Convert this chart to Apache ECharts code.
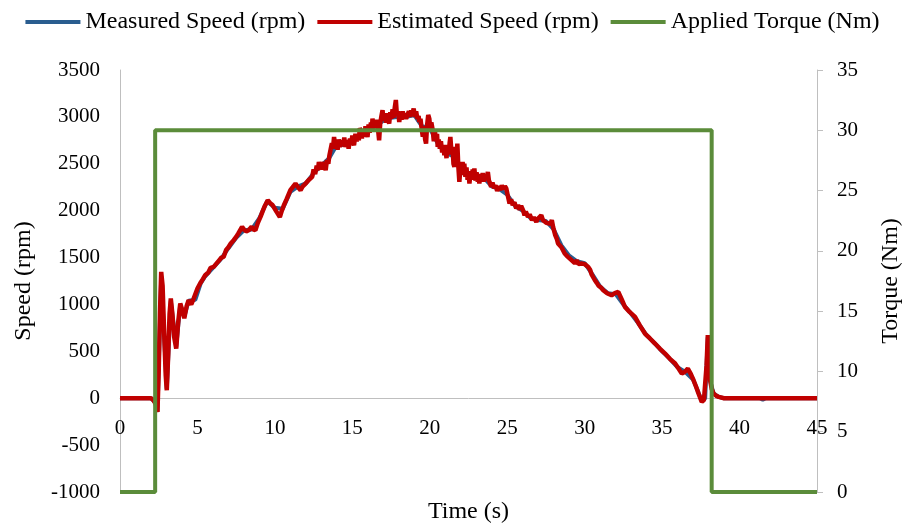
<!DOCTYPE html>
<html>
<head>
<meta charset="utf-8">
<script src="https://cdn.jsdelivr.net/npm/echarts@6/dist/echarts.min.js"></script>
<style>
  html, body { margin: 0; padding: 0; background: #ffffff; }
  #chart { width: 905px; height: 530px; }
</style>
</head>
<body>
<div id="chart"></div>
<script>
// Sensorless drive test: measured vs. estimated rotor speed under a torque step

const seriesNames = ['Measured Speed (rpm)', 'Estimated Speed (rpm)', 'Applied Torque (Nm)'];

// Measured speed (rpm) against time (s)
const measuredTime = [0, 2.0, 2.3, 2.42, 2.66, 3.02, 3.28, 3.63, 3.89, 4.15, 4.43, 4.86, 5.2, 5.5, 6.0, 6.5, 7.0, 7.5, 8.0, 8.5, 9.0, 9.5, 10.0, 10.5, 11.0, 11.5, 12.0, 12.5, 13.0, 13.5, 14.0, 14.5, 15.0, 15.5, 16.0, 16.5, 17.0, 17.5, 18.0, 18.5, 19.0, 19.5, 20.0, 20.5, 21.0, 21.5, 22.0, 22.5, 23.0, 23.5, 24.0, 24.5, 25.0, 25.5, 26.0, 26.5, 27.0, 27.5, 28.0, 28.5, 29.0, 29.5, 30.0, 30.5, 31.0, 31.5, 32.0, 32.5, 33.0, 33.5, 34.0, 34.5, 35.0, 35.5, 36.0, 36.5, 37.0, 37.35, 37.56, 37.78, 37.95, 38.1, 38.32, 38.65, 39.0, 41.3, 41.5, 41.7, 45];
const measuredRpm  = [0, 0, -50, -140, 1300, 100, 1040, 550, 1000, 870, 1040, 1050, 1220, 1300, 1390, 1480, 1600, 1710, 1790, 1800, 1920, 2100, 2030, 2020, 2200, 2260, 2290, 2400, 2480, 2560, 2700, 2700, 2740, 2810, 2850, 2900, 2960, 2990, 3000, 3000, 3020, 2900, 2880, 2720, 2620, 2580, 2480, 2380, 2370, 2350, 2260, 2230, 2170, 2050, 2000, 1920, 1900, 1890, 1800, 1630, 1520, 1460, 1440, 1320, 1190, 1120, 1110, 1000, 900, 790, 670, 590, 500, 420, 330, 280, 200, 60, -30, 0, 650, 190, 50, 15, 0, 0, -15, 0, 0];

// Estimated speed (rpm) against time (s)
const estimatedTime = [
  0, 1.0, 2.0, 2.15, 2.3, 2.42, 2.5, 2.58, 2.66, 2.75, 2.85, 2.95, 3.02, 3.12, 3.2, 3.28, 3.38, 3.5, 3.63, 3.75, 3.89, 4.0, 4.15, 4.3, 4.43, 4.6, 4.75, 4.86,
  5.0, 5.18, 5.35, 5.5, 5.7, 5.85, 6.05, 6.25, 6.4, 6.55, 6.69, 6.85, 7.0, 7.15, 7.34, 7.5, 7.65, 7.88, 8.0, 8.15, 8.31, 8.5, 8.6, 8.74, 8.9,
  9.07, 9.2, 9.35, 9.54, 9.7, 9.85, 9.93, 10.1, 10.32, 10.45, 10.58, 10.75, 10.9, 11.0, 11.15, 11.33, 11.5, 11.66, 11.8, 11.98, 12.2,
  12.41, 12.5, 12.6, 12.7, 12.78, 12.84, 12.92, 13.0, 13.08, 13.15, 13.22, 13.28, 13.36, 13.45, 13.52, 13.6, 13.68, 13.75, 13.82, 13.9, 13.98,
  14.05, 14.12, 14.2, 14.25, 14.32, 14.4, 14.48, 14.55, 14.62, 14.68, 14.76, 14.85, 14.92, 15.0, 15.06, 15.11, 15.2, 15.28, 15.35, 15.42, 15.48,
  15.54, 15.62, 15.7, 15.78, 15.85, 15.92, 15.98, 16.05, 16.12, 16.2, 16.26, 16.3, 16.38, 16.45, 16.52, 16.6, 16.67, 16.73, 16.8, 16.88, 16.95,
  17.02, 17.1, 17.18, 17.25, 17.32, 17.38, 17.45, 17.52, 17.6, 17.66, 17.74, 17.81, 17.88, 17.95, 18.03, 18.1, 18.18, 18.25, 18.32, 18.4, 18.47,
  18.57, 18.65, 18.72, 18.8, 18.88, 18.96, 19.04, 19.12, 19.2, 19.28, 19.32, 19.4, 19.48, 19.55, 19.62, 19.7, 19.76, 19.82, 19.9, 19.97,
  20.04, 20.1, 20.19, 20.26, 20.33, 20.4, 20.47, 20.51, 20.58, 20.65, 20.72, 20.8, 20.87, 20.94, 21.0, 21.08, 21.15, 21.22, 21.28, 21.33,
  21.4, 21.47, 21.53, 21.59, 21.65, 21.72, 21.78, 21.84, 21.91, 21.98, 22.05, 22.12, 22.18, 22.23, 22.3, 22.37, 22.44, 22.5, 22.56, 22.63,
  22.7, 22.77, 22.83, 22.88, 22.95, 23.02, 23.1, 23.16, 23.2, 23.28, 23.35, 23.42, 23.5, 23.58, 23.66, 23.75, 23.82, 23.9, 23.96,
  24.05, 24.15, 24.25, 24.35, 24.45, 24.55, 24.65, 24.75, 24.85, 24.94, 25.05, 25.15, 25.25, 25.35, 25.47, 25.58, 25.7, 25.8, 25.9, 26.02,
  26.12, 26.2, 26.34, 26.45, 26.6, 26.72, 26.88, 26.96, 27.05, 27.2, 27.3, 27.4, 27.52, 27.64, 27.8, 27.88, 27.96, 28.1, 28.2, 28.28,
  28.4, 28.5, 28.6, 28.71, 28.8, 28.9, 29.0, 29.15, 29.25, 29.36, 29.5, 29.6, 29.68, 29.79, 29.9, 30.0, 30.12, 30.23, 30.35, 30.45,
  30.55, 30.66, 30.78, 30.9, 31.05, 31.2, 31.45, 31.74, 31.95, 32.17, 32.4, 32.6, 32.9, 33.25, 33.55, 33.89, 34.2, 34.54, 34.85, 35.19,
  35.5, 35.84, 36.05, 36.27, 36.45, 36.66, 36.85, 37.03, 37.2, 37.35, 37.56, 37.7, 37.78, 37.87, 37.95, 38.02, 38.1, 38.2, 38.32, 38.5,
  38.65, 39.0, 45
];
const estimatedRpm = [
  0, 0, 0, -20, -60, -146, 300, 900, 1347, 1200, 700, 250, 85, 500, 900, 1063, 900, 650, 530, 800, 1010, 950, 853, 980, 1045, 1000, 1060, 1045,
  1170, 1226, 1270, 1311, 1340, 1390, 1400, 1440, 1470, 1500, 1507, 1580, 1610, 1650, 1685, 1720, 1760, 1827, 1800, 1780, 1791, 1830, 1800, 1791, 1870,
  1933, 1990, 2050, 2111, 2080, 2060, 2040, 1990, 1933, 2000, 2058, 2120, 2180, 2218, 2250, 2289, 2250, 2218, 2260, 2289, 2330,
  2360, 2440, 2390, 2480, 2430, 2520, 2450, 2500, 2440, 2520, 2470, 2431, 2540, 2500, 2590, 2609, 2720, 2660, 2786, 2690, 2740,
  2650, 2760, 2680, 2662, 2750, 2690, 2780, 2680, 2720, 2751, 2660, 2770, 2700, 2800, 2720, 2698, 2820, 2740, 2810, 2750, 2880,
  2858, 2770, 2850, 2790, 2900, 2820, 2786, 2920, 2830, 2940, 2860, 2982, 2880, 2960, 2880, 2970, 2850, 2751, 2930, 3010, 3071,
  2960, 3020, 2940, 3040, 2960, 2929, 3050, 2980, 3080, 2990, 3100, 3180, 3010, 3060, 2946, 3050, 2970, 3060, 2980, 3040, 2980,
  2982, 3060, 3000, 3070, 3030, 3089, 3000, 3060, 2980, 3010, 2946, 2980, 2870, 2790, 2900, 2760, 2716, 2900, 3020, 2982,
  2860, 2940, 2858, 2740, 2850, 2760, 2820, 2680, 2760, 2660, 2740, 2620, 2700, 2591, 2680, 2560, 2700, 2600, 2720, 2786,
  2620, 2680, 2500, 2466, 2620, 2560, 2716, 2480, 2307, 2460, 2380, 2520, 2420, 2502, 2360, 2460, 2330, 2420, 2289, 2400,
  2330, 2440, 2360, 2449, 2320, 2410, 2310, 2380, 2289, 2390, 2320, 2400, 2310, 2390, 2330, 2413, 2320, 2290, 2253,
  2300, 2240, 2270, 2210, 2260, 2220, 2270, 2230, 2260, 2236, 2150, 2076, 2120, 2060, 2090, 2023, 2060, 2010, 2050, 2005,
  1950, 1990, 1933, 1960, 1900, 1930, 1880, 1910, 1890, 1951, 1900, 1920, 1870, 1890, 1860, 1900, 1827, 1740, 1700, 1650,
  1660, 1610, 1600, 1543, 1560, 1510, 1500, 1472, 1490, 1440, 1470, 1430, 1450, 1436, 1450, 1430, 1440, 1400, 1370, 1320,
  1290, 1258, 1230, 1200, 1180, 1152, 1120, 1098, 1120, 1134, 1050, 974, 920, 867, 780, 690, 640, 583, 530, 476,
  420, 370, 320, 263, 280, 316, 260, 192, 120, 50, -39, -20, 0, 350, 672, 400, 192, 100, 50, 25,
  14, 0, 0
];

// Applied load torque (Nm) against time (s)
const torqueTime = [0, 2.27, 2.27, 38.2, 38.2, 45];
const torqueNm   = [0, 0, 30, 30, 0, 0];

// Axis ranges and tick spacing
const timeAxis   = { min: 0, max: 45, step: 5 };
const speedAxis  = { min: -1000, max: 3500, step: 500 };
const torqueAxis = { min: 0, max: 35, step: 5 };

const pairs = (xs, ys) => xs.map((x, i) => [x, ys[i]]);
const plain = v => String(v);

const FONT = '"Liberation Serif", "Times New Roman", serif';
const AXIS_GREY = '#BFBFBF';
const COLORS = ['#2A5D8F', '#C00000', '#5B8C3A'];

const GRID = { left: 120, right: 88, top: 70, bottom: 38 };
const PLOT_H = 530 - GRID.top - GRID.bottom;
// lift the time axis up to the speed = 0 level of the left scale
const zeroLift = Math.round(PLOT_H * (0 - speedAxis.min) / (speedAxis.max - speedAxis.min));

const chart = echarts.init(document.getElementById('chart'), null, { renderer: 'canvas' });

chart.setOption({
  animation: false,
  backgroundColor: '#ffffff',
  color: COLORS,
  textStyle: { fontFamily: FONT, color: '#000' },
  legend: {
    top: 5,
    left: 'center',
    icon: 'rect',
    itemWidth: 55,
    itemHeight: 4,
    itemGap: 12,
    data: seriesNames,
    textStyle: { fontFamily: FONT, fontSize: 24, color: '#000' }
  },
  grid: Object.assign({ outerBoundsMode: 'none', containLabel: false }, GRID),
  xAxis: {
    type: 'value',
    min: timeAxis.min,
    max: timeAxis.max,
    interval: timeAxis.step,
    offset: -zeroLift,
    name: 'Time (s)',
    nameLocation: 'middle',
    nameGap: 102,
    nameTextStyle: { fontFamily: FONT, fontSize: 24, color: '#000' },
    axisLine: { onZero: false, lineStyle: { color: AXIS_GREY, width: 1 } },
    axisTick: { show: false },
    axisLabel: { margin: 20, fontFamily: FONT, fontSize: 21, color: '#000', formatter: plain },
    splitLine: { show: false }
  },
  yAxis: [
    {
      type: 'value',
      min: speedAxis.min,
      max: speedAxis.max,
      interval: speedAxis.step,
      name: 'Speed (rpm)',
      nameLocation: 'middle',
      nameRotate: 90,
      nameGap: 84,
      nameTextStyle: { fontFamily: FONT, fontSize: 24, color: '#000' },
      axisLine: { show: true, onZero: false, lineStyle: { color: AXIS_GREY, width: 1 } },
      axisTick: { show: false },
      axisLabel: { margin: 20, fontFamily: FONT, fontSize: 21, color: '#000', formatter: plain },
      splitLine: { show: false }
    },
    {
      type: 'value',
      position: 'right',
      min: torqueAxis.min,
      max: torqueAxis.max,
      interval: torqueAxis.step,
      name: 'Torque (Nm)',
      nameLocation: 'middle',
      nameRotate: 90,
      nameGap: 62,
      nameTextStyle: { fontFamily: FONT, fontSize: 24, color: '#000' },
      axisLine: { show: true, onZero: false, lineStyle: { color: AXIS_GREY, width: 1 } },
      axisTick: { show: true, inside: false, length: 6, lineStyle: { color: AXIS_GREY } },
      axisLabel: { margin: 20, fontFamily: FONT, fontSize: 21, color: '#000', formatter: plain },
      splitLine: { show: false }
    }
  ],
  series: [
    {
      name: seriesNames[0],
      type: 'line',
      yAxisIndex: 0,
      data: pairs(measuredTime, measuredRpm),
      showSymbol: false,
      clip: false,
      lineStyle: { color: COLORS[0], width: 4 }
    },
    {
      name: seriesNames[1],
      type: 'line',
      yAxisIndex: 0,
      data: pairs(estimatedTime, estimatedRpm),
      showSymbol: false,
      clip: false,
      lineStyle: { color: COLORS[1], width: 4.5 }
    },
    {
      name: seriesNames[2],
      type: 'line',
      yAxisIndex: 1,
      data: pairs(torqueTime, torqueNm),
      showSymbol: false,
      clip: false,
      lineStyle: { color: COLORS[2], width: 4 }
    }
  ]
});
</script>
</body>
</html>
